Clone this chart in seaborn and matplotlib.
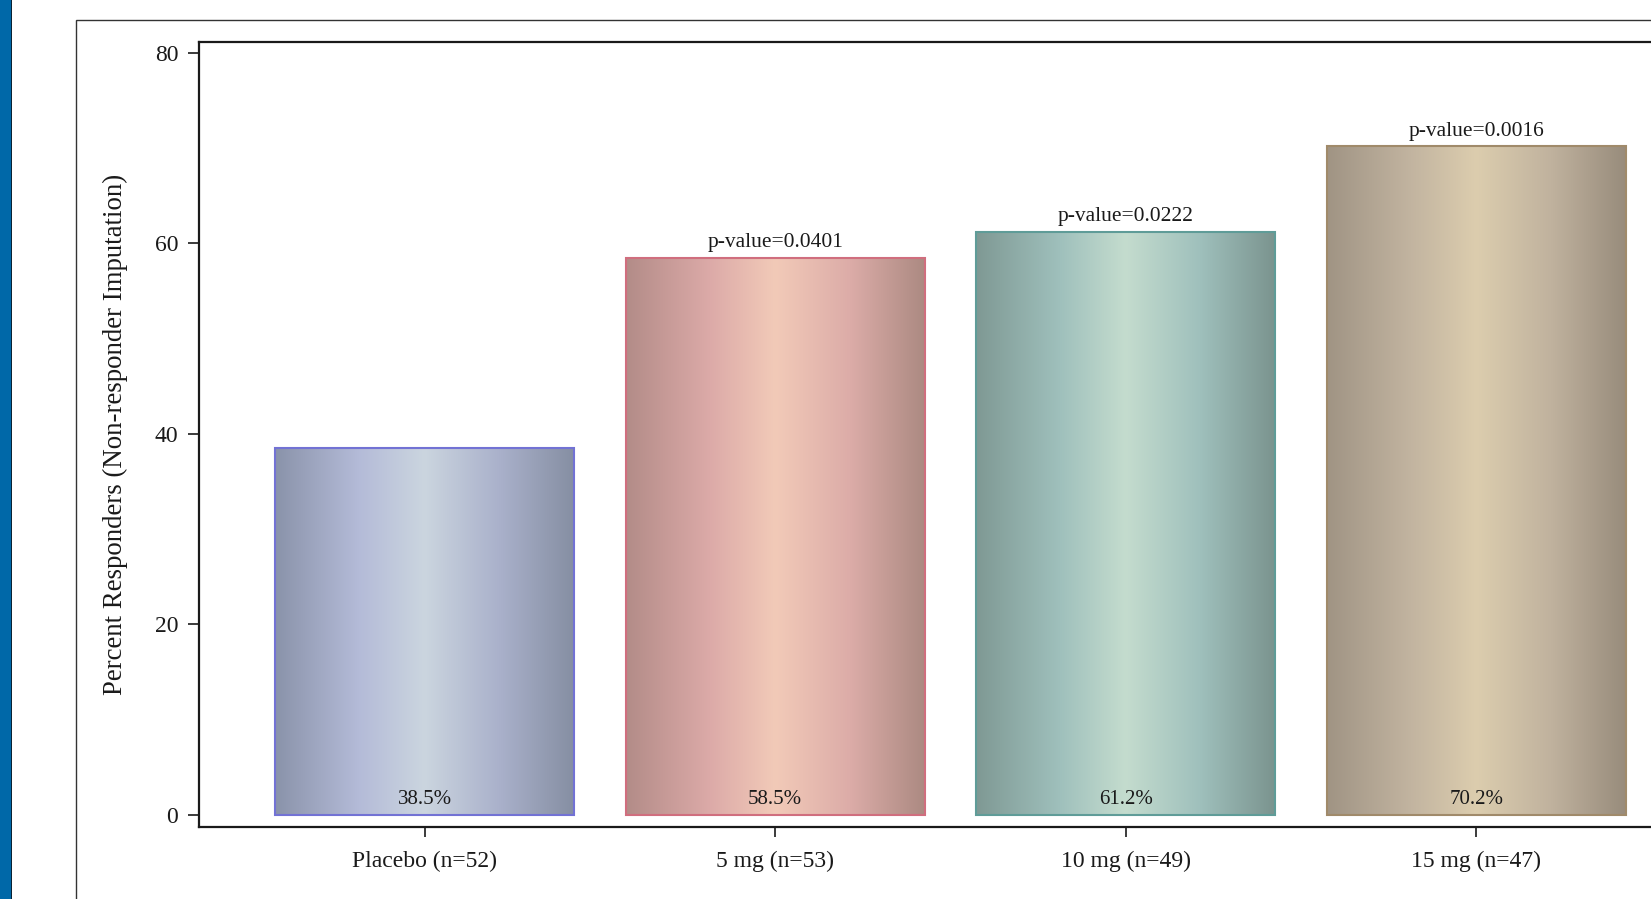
import matplotlib
matplotlib.use("Agg")
import matplotlib.pyplot as plt
import numpy as np
import seaborn as sns
from matplotlib.colors import LinearSegmentedColormap
from matplotlib.patches import Rectangle

# data
groups = ["Placebo (n=52)", "5 mg (n=53)", "10 mg (n=49)", "15 mg (n=47)"]
pct = [38.5, 58.5, 61.2, 70.2]
pvals = [None, "p-value=0.0401", "p-value=0.0222", "p-value=0.0016"]
yticks = [0, 20, 40, 60, 80]

# gradient stops per bar: dark edge, mid, light centre, mid, dark edge
grad_cols = [
    ["#8a93aa", "#b4bbd8", "#cbd5df", "#aab1cb", "#868fa3"],
    ["#b38c88", "#dcaaa8", "#f2cab8", "#dcaca8", "#ac8a82"],
    ["#7f9994", "#9fc0bc", "#c4dcce", "#9fc0bc", "#7b948f"],
    ["#a09484", "#c2b4a0", "#dccdae", "#c0b29e", "#988c7c"],
]
edge_cols = ["#7272d4", "#d06e7e", "#5f9c98", "#a08a6a"]

sns.set_style("ticks")
plt.rcParams["font.family"] = ["Liberation Serif", "DejaVu Serif"]

fig = plt.figure(figsize=(16.51, 8.99), dpi=100)
ax = fig.add_axes([199 / 1651, 72 / 899, 1503 / 1651, 785 / 899])

sns.barplot(x=groups, y=pct, hue=groups, palette=edge_cols, width=0.853,
            legend=False, ax=ax, saturation=1)

for i, patch in enumerate(ax.patches):
    x0 = patch.get_x()
    w = patch.get_width()
    h = patch.get_height()
    cmap = LinearSegmentedColormap.from_list(
        "g%d" % i, list(zip([0, 0.28, 0.5, 0.75, 1], grad_cols[i])))
    img = ax.imshow(np.linspace(0, 1, 256).reshape(1, -1), cmap=cmap,
                    aspect="auto", extent=[x0, x0 + w, 0, h], zorder=1.5,
                    interpolation="bicubic")
    img.set_clip_path(patch)
    patch.set_facecolor("none")
    patch.set_edgecolor(edge_cols[i])
    patch.set_linewidth(1.5)
    patch.set_zorder(2)

    ax.text(x0 + w / 2, 1.15, "%.1f%%" % pct[i], ha="center", va="baseline",
            fontsize=15, color="#1a1a1a", zorder=3)
    if pvals[i]:
        ax.text(x0 + w / 2, h + 0.6, pvals[i], ha="center", va="bottom",
                fontsize=15.5, color="#1a1a1a", zorder=3)

ax.set_xlim(-0.644, 3.644)
ax.set_ylim(-1.26, 81.15)
ax.set_yticks(yticks)

ax.set_xlabel("")
ax.set_ylabel("Percent Responders (Non-responder Imputation)", fontsize=19.3,
              color="#1a1a1a")
ax.yaxis.set_label_coords(-0.0558, 0.5)
ax.yaxis.label.set_verticalalignment("center")

ax.tick_params(axis="y", length=8, width=1.2, pad=7, labelsize=17,
               colors="#1a1a1a")
ax.tick_params(axis="x", length=7.5, width=1.2, pad=10, labelsize=17,
               colors="#1a1a1a")
for s in ax.spines.values():
    s.set_linewidth(1.6)
    s.set_color("#1a1a1a")

# outer graph frame and left border strip
fig.patches.append(Rectangle((76 / 1651, -0.2), 1.2, 0.2 + 879 / 899,
                             transform=fig.transFigure, fill=False,
                             edgecolor="#333333", linewidth=1.0))
fig.patches.append(Rectangle((0, 0), 11 / 1651, 1, transform=fig.transFigure,
                             facecolor="#0068a8", edgecolor="none"))
fig.patches.append(Rectangle((10.5 / 1651, 0), 1.5 / 1651, 1,
                             transform=fig.transFigure,
                             facecolor="#0b2233", edgecolor="none"))

fig.savefig("out.png", dpi=100)
